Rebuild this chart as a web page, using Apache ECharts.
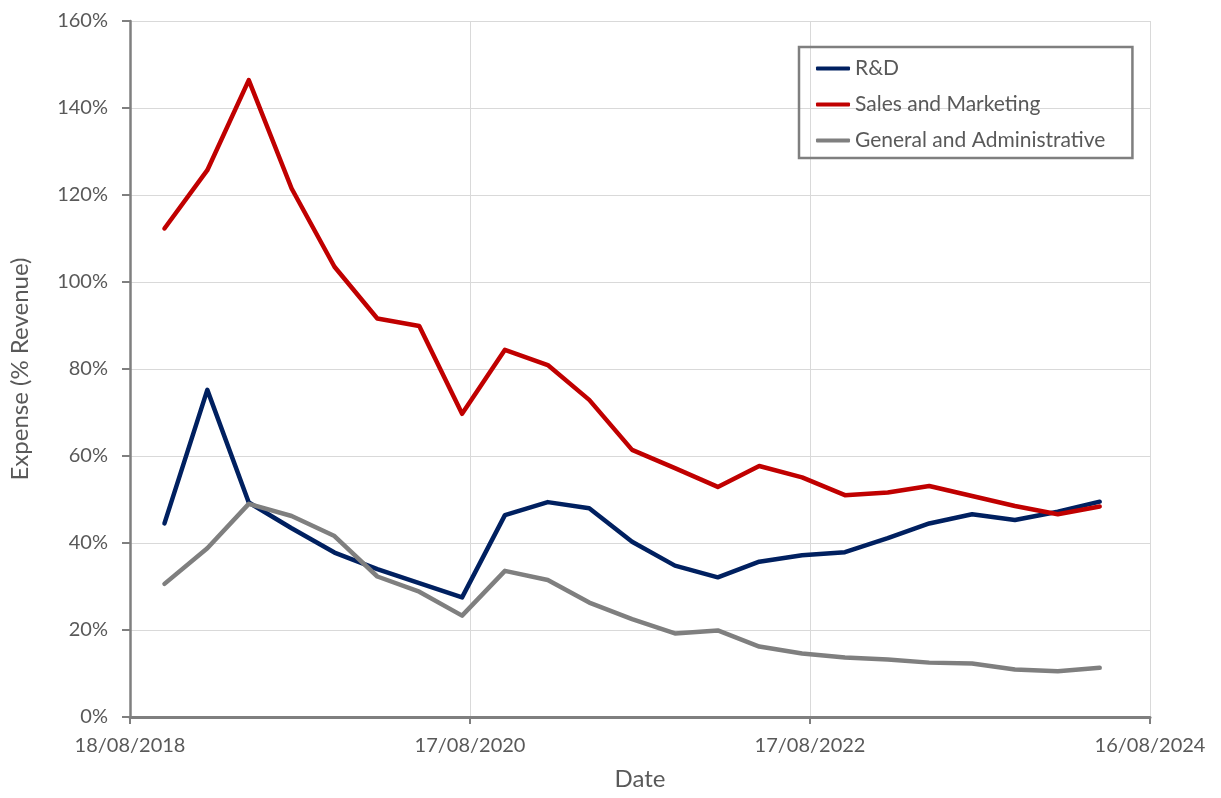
<!DOCTYPE html>
<html>
<head>
<meta charset="utf-8">
<script src="https://cdn.jsdelivr.net/npm/echarts@6/dist/echarts.min.js"></script>
<style>
html,body{margin:0;padding:0;background:#fff;}
#chart{width:1221px;height:798px;}
</style>
</head>
<body>
<div id="chart"></div>
<script>
// ---- data ----
var dates = ['2018-10-31','2019-01-31','2019-04-30','2019-07-31','2019-10-31','2020-01-31','2020-04-30','2020-07-31',
  '2020-10-31','2021-01-31','2021-04-30','2021-07-31','2021-10-31','2022-01-31','2022-04-30','2022-07-31',
  '2022-10-31','2023-01-31','2023-04-30','2023-07-31','2023-10-31','2024-01-31','2024-04-30'];
var rnd = [44.5, 75.2, 49.3, 43.4, 37.8, 34.0, 30.8, 27.5, 46.4, 49.4, 48.0, 40.3, 34.8, 32.1, 35.7, 37.2, 37.9, 41.1, 44.5, 46.6, 45.3, 47.2, 49.5];
var salesMarketing = [112.3, 125.7, 146.4, 121.5, 103.5, 91.6, 89.9, 69.7, 84.4, 80.9, 72.9, 61.4, 57.2, 52.9, 57.7, 55.1, 51.0, 51.6, 53.1, 50.8, 48.5, 46.6, 48.4];
var generalAdmin = [30.6, 38.8, 49.0, 46.2, 41.6, 32.3, 28.8, 23.3, 33.6, 31.5, 26.3, 22.5, 19.2, 19.9, 16.2, 14.6, 13.7, 13.2, 12.5, 12.3, 10.9, 10.5, 11.3];
var axisStartDate = '2018-08-18';
var axisEndDate = '2024-08-16';
var tickStepDays = 730;

// ---- helpers ----
var DAY = 86400000;
function toUTC(s){ var p = s.split('-'); return Date.UTC(+p[0], +p[1]-1, +p[2]); }
var t0 = toUTC(axisStartDate);
function dayOffset(s){ return Math.round((toUTC(s) - t0) / DAY); }
function fmtDay(d){
  var dt = new Date(t0 + d * DAY);
  var dd = String(dt.getUTCDate()).padStart(2,'0');
  var mm = String(dt.getUTCMonth()+1).padStart(2,'0');
  return dd + '/' + mm + '/' + dt.getUTCFullYear();
}
function pairs(vals){ return dates.map(function(d,i){ return [dayOffset(d), vals[i]]; }); }

var FONT = 'Lato, "Liberation Sans", sans-serif';
var TXT = '#595959';
var AX = '#7f7f7f';

var chart = echarts.init(document.getElementById('chart'));
chart.setOption({
  animation: false,
  backgroundColor: '#ffffff',
  textStyle: { fontFamily: FONT },
  grid: { left: 130, right: 71, top: 21, bottom: 81, containLabel: false },
  legend: {
    orient: 'vertical',
    left: 799, top: 47,
    padding: [11, 27, 7, 17],
    itemGap: 15,
    itemWidth: 34, itemHeight: 4,
    icon: 'roundRect',
    borderColor: AX, borderWidth: 2.5,
    textStyle: { color: TXT, fontSize: 21, fontFamily: FONT },
    data: ['R&D','Sales and Marketing','General and Administrative']
  },
  xAxis: {
    type: 'value',
    min: 0, max: dayOffset(axisEndDate), interval: tickStepDays,
    name: 'Date', nameLocation: 'middle', nameGap: 50,
    nameTextStyle: { color: TXT, fontSize: 24, fontFamily: FONT },
    axisLine: { show: true, lineStyle: { color: AX, width: 3 } },
    axisTick: { show: true, length: 7, lineStyle: { color: AX, width: 2 } },
    axisLabel: { color: TXT, fontSize: 20, margin: 19, formatter: function(v){ return fmtDay(v); } },
    splitLine: { show: true, lineStyle: { color: '#d9d9d9', width: 1 } }
  },
  yAxis: {
    type: 'value',
    min: 0, max: 160, interval: 20,
    name: 'Expense (% Revenue)', nameLocation: 'middle', nameGap: 98,
    nameTextStyle: { color: TXT, fontSize: 24, fontFamily: FONT },
    axisLine: { show: true, lineStyle: { color: AX, width: 2.5 } },
    axisTick: { show: true, length: 8, lineStyle: { color: AX, width: 2 } },
    axisLabel: { color: TXT, fontSize: 20, margin: 22, formatter: '{value}%' },
    splitLine: { show: true, lineStyle: { color: '#d9d9d9', width: 1 } }
  },
  series: [
    { name: 'R&D', type: 'line', data: pairs(rnd), showSymbol: false, symbol: 'none',
      itemStyle: { color: '#002060' }, lineStyle: { color: '#002060', width: 4.5, join: 'round', cap: 'round' } },
    { name: 'Sales and Marketing', type: 'line', data: pairs(salesMarketing), showSymbol: false, symbol: 'none',
      itemStyle: { color: '#c00000' }, lineStyle: { color: '#c00000', width: 4.5, join: 'round', cap: 'round' } },
    { name: 'General and Administrative', type: 'line', data: pairs(generalAdmin), showSymbol: false, symbol: 'none',
      itemStyle: { color: '#7f7f7f' }, lineStyle: { color: '#7f7f7f', width: 4.5, join: 'round', cap: 'round' } }
  ]
});
</script>
</body>
</html>
